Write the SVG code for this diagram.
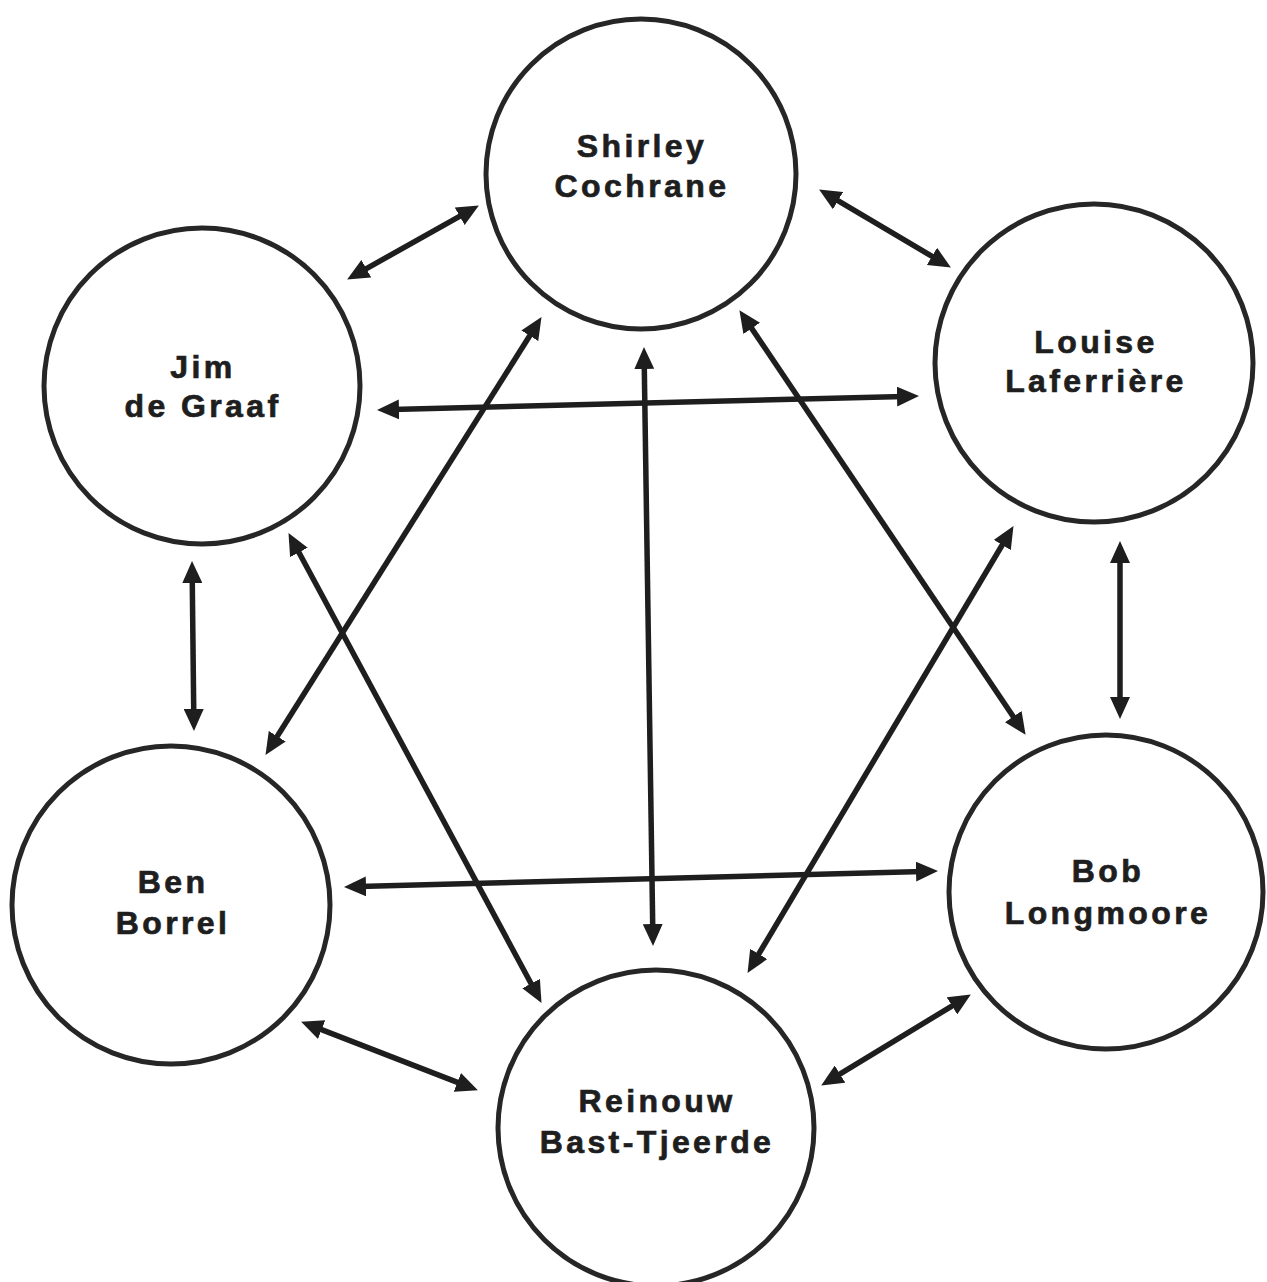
<svg xmlns="http://www.w3.org/2000/svg" width="1267" height="1282" viewBox="0 0 1267 1282">
  <style>
    .node circle { fill: #ffffff; stroke: #262626; stroke-width: 5; }
    .node text { font-family: "Liberation Sans", Arial, sans-serif; font-weight: bold; font-size: 32px; letter-spacing: 3.4px; fill: #1e1e1e; stroke: #1e1e1e; stroke-width: 0.7; text-anchor: middle; }
    .link { stroke: #1e1e1e; stroke-width: 5.5; fill: none; marker-start: url(#head); marker-end: url(#head); }
  </style>
  <defs>
    <marker id="head" viewBox="0 0 22 20" refX="7" refY="10" markerWidth="22" markerHeight="20" markerUnits="userSpaceOnUse" orient="auto-start-reverse">
      <path d="M0,0 L22,10 L0,20 Z" fill="#1e1e1e"/>
    </marker>
  </defs>
  <rect width="1267" height="1282" fill="#ffffff"/>

  <!-- nodes -->
  <g id="shirley-cochrane" class="node">
    <circle cx="641" cy="174" r="155"/>
    <text x="642" y="157">Shirley</text>
    <text x="642" y="197">Cochrane</text>
  </g>
  <g id="louise-laferriere" class="node">
    <circle cx="1094" cy="363" r="159"/>
    <text x="1096" y="353">Louise</text>
    <text x="1096" y="392">Laferrière</text>
  </g>
  <g id="jim-de-graaf" class="node">
    <circle cx="202" cy="386" r="158"/>
    <text x="203" y="378">Jim</text>
    <text x="203" y="417">de Graaf</text>
  </g>
  <g id="ben-borrel" class="node">
    <circle cx="171" cy="905" r="159"/>
    <text x="173" y="893">Ben</text>
    <text x="173" y="934">Borrel</text>
  </g>
  <g id="bob-longmoore" class="node">
    <circle cx="1106" cy="892" r="157"/>
    <text x="1108" y="882">Bob</text>
    <text x="1108" y="924">Longmoore</text>
  </g>
  <g id="reinouw-bast-tjeerde" class="node">
    <circle cx="656" cy="1128" r="158"/>
    <text x="657" y="1112">Reinouw</text>
    <text x="657" y="1153">Bast-Tjeerde</text>
  </g>

  <!-- two-way connectors -->
  <g id="connectors">
    <line class="link" x1="360.2" y1="272.1" x2="465.8" y2="212.9"/>
    <line class="link" x1="832" y1="197.1" x2="938" y2="259.9"/>
    <line class="link" x1="392" y1="409.6" x2="904" y2="396.4"/>
    <line class="link" x1="533.5" y1="329.8" x2="273.5" y2="742.2"/>
    <line class="link" x1="644.2" y1="362" x2="652.8" y2="931"/>
    <line class="link" x1="747.8" y1="322.6" x2="1017.2" y2="722.4"/>
    <line class="link" x1="295.6" y1="546.3" x2="534.4" y2="989.7"/>
    <line class="link" x1="192.2" y1="576" x2="193.8" y2="716"/>
    <line class="link" x1="1005.8" y1="539" x2="755.2" y2="960"/>
    <line class="link" x1="1120" y1="556" x2="1120" y2="704"/>
    <line class="link" x1="359" y1="886.6" x2="923" y2="871.4"/>
    <line class="link" x1="315.1" y1="1027.1" x2="463.9" y2="1084.9"/>
    <line class="link" x1="834" y1="1077.7" x2="958" y2="1002.3"/>
  </g>
</svg>
